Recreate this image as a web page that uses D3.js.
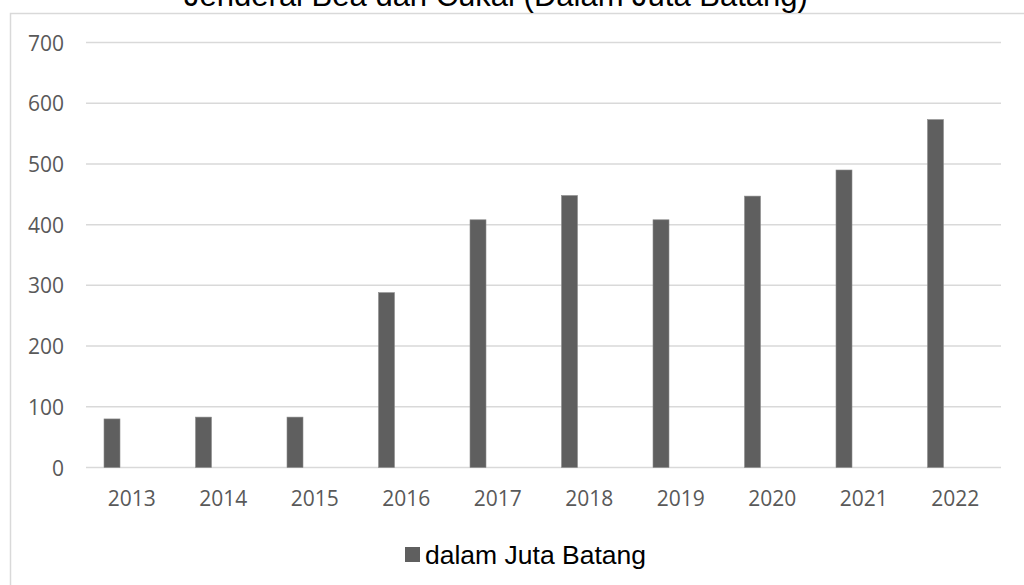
<!DOCTYPE html>
<html>
<head>
<meta charset="utf-8">
<script src="https://cdn.jsdelivr.net/npm/d3@7"></script>
<style>
  html, body { margin: 0; padding: 0; background: #fff; }
  svg { display: block; }
</style>
</head>
<body>
<svg id="chart" width="1024" height="585"></svg>
<script>
const years = ["2013","2014","2015","2016","2017","2018","2019","2020","2021","2022"];
const values = [80, 83, 83, 288, 408, 448, 408, 447, 490, 573];
const yTicks = [0, 100, 200, 300, 400, 500, 600, 700];
const seriesName = "dalam Juta Batang";
const titleText = "Jenderal Bea dan Cukai (Dalam Juta Batang)";

const svg = d3.select("#chart");

// chart area border
svg.append("rect")
  .attr("x", 10.5).attr("y", 13.5)
  .attr("width", 1030).attr("height", 600)
  .attr("fill", "none").attr("stroke", "#d9d9d9").attr("stroke-width", 1.5);

// title (wrapped, first line outside the view)
svg.append("text")
  .attr("x", 496).attr("y", 5.5)
  .attr("text-anchor", "middle")
  .attr("font-family", "Liberation Sans, Arial, sans-serif")
  .attr("font-size", 31)
  .attr("fill", "#000")
  .text(titleText);

const x = d3.scaleBand().domain(years).range([86, 1001]).paddingInner(0).paddingOuter(0);
const y = d3.scaleLinear().domain([0, 700]).range([467.5, 42.5]);

// gridlines
svg.append("g")
  .selectAll("line")
  .data(yTicks)
  .join("line")
  .attr("x1", 86).attr("x2", 1001)
  .attr("y1", d => y(d)).attr("y2", d => y(d))
  .attr("stroke", "#d9d9d9").attr("stroke-width", 1.5);

// y axis labels
const yAxis = d3.axisLeft(y).tickValues(yTicks).tickSize(0).tickPadding(0).tickFormat(d3.format("d"));
const yg = svg.append("g").attr("transform", "translate(64,0)").call(yAxis);
yg.select(".domain").remove();
yg.selectAll("text")
  .attr("font-family", "Open Sans, sans-serif")
  .attr("font-size", 21)
  .attr("fill", "#595959")
  .attr("dy", "0.36em");

// x axis labels
const xAxis = d3.axisBottom(x).tickSize(0).tickPadding(0);
const xg = svg.append("g").attr("transform", "translate(0,491.5)").call(xAxis);
xg.select(".domain").remove();
xg.selectAll("text")
  .attr("font-family", "Open Sans, sans-serif")
  .attr("font-size", 21)
  .attr("fill", "#595959")
  .attr("dy", "0.71em");

// bars
const barOffset = 18, barW = 16;
svg.append("g")
  .selectAll("rect")
  .data(values)
  .join("rect")
  .attr("x", (d, i) => x(years[i]) + barOffset)
  .attr("width", barW)
  .attr("y", d => y(d))
  .attr("height", d => y(0) - y(d))
  .attr("fill", "#5f5f5f")
  .attr("stroke", "#8c8c8c")
  .attr("stroke-width", 0.6);

// legend
const lg = svg.append("g");
lg.append("rect")
  .attr("x", 405).attr("y", 547).attr("width", 15).attr("height", 15)
  .attr("fill", "#5f5f5f");
lg.append("text")
  .attr("x", 425).attr("y", 564)
  .attr("font-family", "Liberation Sans, Arial, sans-serif")
  .attr("font-size", 26.5)
  .attr("fill", "#000")
  .text(seriesName);
</script>
</body>
</html>
